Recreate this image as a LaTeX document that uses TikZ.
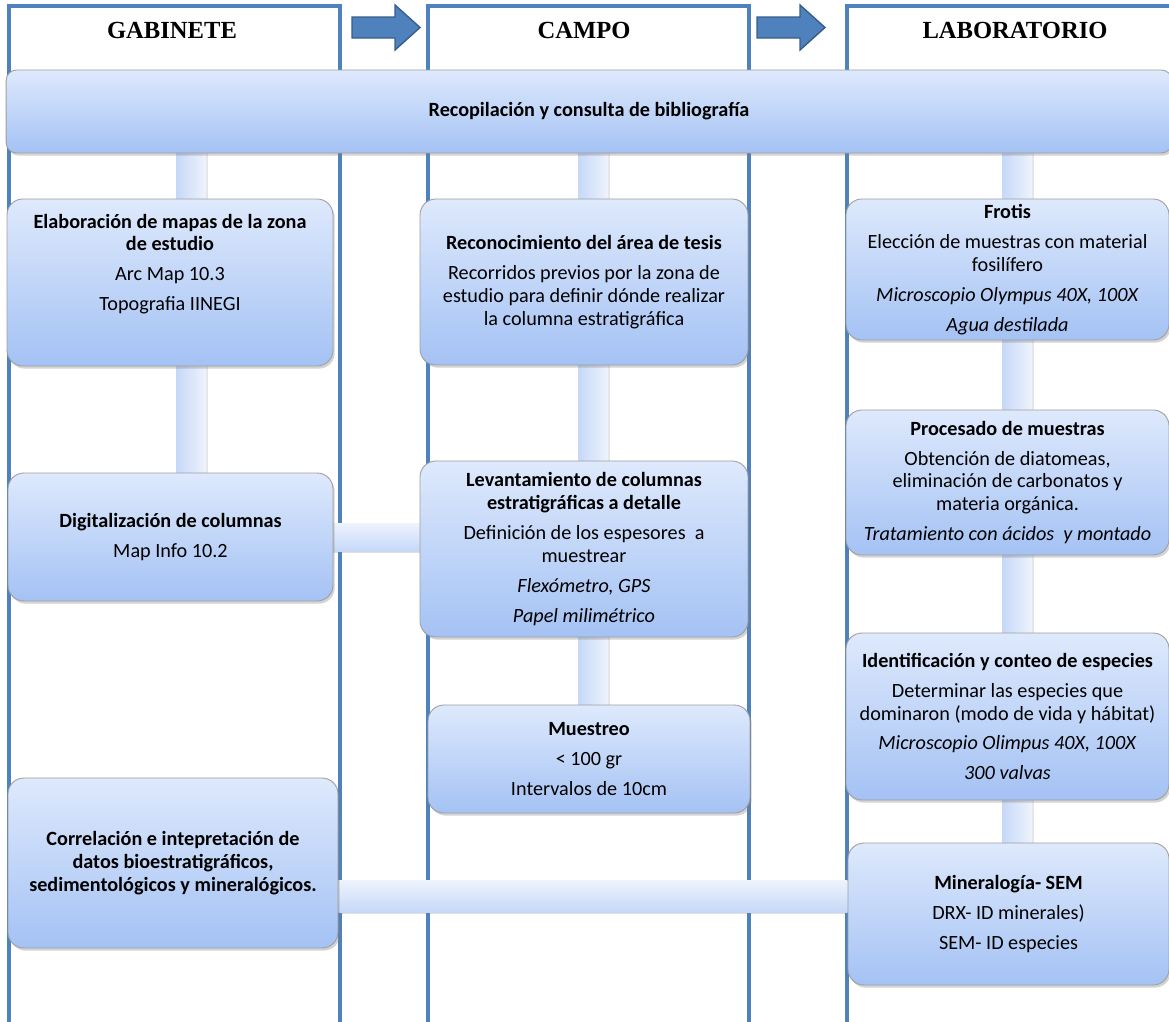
\documentclass[tikz,border=0pt]{standalone}
\usepackage{fontspec}
\setmainfont{Carlito}
\newfontfamily\headfont{Liberation Serif}
\usetikzlibrary{positioning,calc,shadows,backgrounds}
\definecolor{LaneBlue}{RGB}{79,129,189}
\definecolor{LaneDark}{RGB}{56,93,138}
\definecolor{BoxTop}{RGB}{222,233,252}
\definecolor{BoxBot}{RGB}{164,194,244}
\definecolor{BarDark}{RGB}{198,216,248}
\definecolor{BarLight}{RGB}{238,243,253}

\begin{document}
\begin{tikzpicture}[
    x=0.02cm, y=-0.02cm,
    lane/.style={draw=LaneBlue, line width=2pt},
    head/.style={font=\headfont\bfseries\fontsize{14}{16}\selectfont, text=black},
    stage/.style={rectangle, rounded corners=9pt, draw=gray!75, line width=0.5pt,
        top color=BoxTop, bottom color=BoxBot, minimum width=6.52cm, inner sep=2pt,
        align=center, font=\fontsize{11.5}{13}\selectfont, text=black,
        drop shadow={opacity=0.35, shadow xshift=1pt, shadow yshift=-1.5pt}},
    vbar/.style={left color=BarDark, right color=BarLight,
        drop shadow={opacity=0.2, shadow xshift=1pt, shadow yshift=0pt}},
    hbar/.style={top color=BarLight, bottom color=BarDark,
        drop shadow={opacity=0.25, shadow xshift=0pt, shadow yshift=-1.2pt}},
    blockarr/.style={fill=LaneBlue, draw=LaneDark, line width=0.8pt},
]
\useasboundingbox (0,0) rectangle (1169,1021);

% lane titles
\node[head] (gab) at (172,30) {GABINETE};
\node[head] (cam) at (584,30) {CAMPO};
\node[head] (lab) at (1015,30) {LABORATORIO};

\node[stage, minimum width=23.32cm, minimum height=1.66cm, rounded corners=6pt] (biblio) at (589,111.5) {\textbf{Recopilación y consulta de bibliografía}};

% gabinete
\node[stage, minimum height=3.34cm] (mapas) at (170,282.5) {\textbf{Elaboración de mapas de la zona}\\ \textbf{de estudio}\\[4pt] Arc Map 10.3\\[4pt] Topografia IINEGI\\[10pt]\mbox{}};
\node[stage, minimum width=6.5cm, minimum height=2.56cm] (digit) at (170.5,537) {\textbf{Digitalización de columnas}\\[4pt] Map Info 10.2};
\node[stage, minimum width=6.6cm, minimum height=3.4cm] (correl) at (173,863) {\textbf{Correlación e intepretación de}\\ \textbf{datos bioestratigráficos,}\\ \textbf{sedimentológicos y mineralógicos.}};

% campo
\node[stage, minimum width=6.56cm, minimum height=3.32cm] (recon) at (584,282) {\textbf{Reconocimiento del área de tesis}\\[4pt] Recorridos previos por la zona de\\ estudio para definir dónde realizar\\ la columna estratigráfica};
\node[stage, minimum width=6.56cm, minimum height=3.52cm] (levant) at (584,549) {\textbf{Levantamiento de columnas}\\ \textbf{estratigráficas a detalle}\\[4pt] Definición de los espesores\ \ a\\ muestrear\\[4pt] \textit{Flexómetro, GPS}\\[4pt] \textit{Papel milimétrico}};
\node[stage, minimum width=6.44cm, minimum height=2.16cm] (muestreo) at (589,759) {\textbf{Muestreo}\\[4pt] < 100 gr\\[4pt] Intervalos de 10cm};

% laboratorio
\node[stage, minimum width=6.46cm, minimum height=2.82cm] (frotis) at (1007.5,269.5) {\textbf{Frotis}\\[4pt] Elección de muestras con material\\ fosilífero\\[4pt] \textit{Microscopio Olympus 40X, 100X}\\[4pt] \textit{Agua destilada}};
\node[stage, minimum width=6.46cm, minimum height=2.9cm] (proces) at (1007.5,482.5) {\textbf{Procesado de muestras}\\[4pt] Obtención de diatomeas,\\ eliminación de carbonatos y\\ materia orgánica.\\[4pt] \textit{Tratamiento con ácidos\ \ y montado}};
\node[stage, minimum width=6.46cm, minimum height=3.34cm] (ident) at (1007.5,716.5) {\textbf{Identificación y conteo de especies}\\[4pt] Determinar las especies que\\ dominaron (modo de vida y hábitat)\\[4pt] \textit{Microscopio Olimpus 40X, 100X}\\[4pt] \textit{300 valvas}};
\node[stage, minimum width=6.42cm, minimum height=2.84cm] (mineral) at (1008.5,914) {\textbf{Mineralogía- SEM}\\[4pt] DRX- ID minerales)\\[4pt] SEM- ID especies};

\begin{scope}[on background layer]
% lanes and block arrows
\draw[lane] (9,1030) |- (340,6) -- (340,1030);
\draw[lane] (428,1030) |- (749,6) -- (749,1030);
\draw[lane] (847,1030) |- (1180,6);
\foreach \ax in {352,757}
    \filldraw[blockarr] (\ax,17) -- ({\ax+43},17) -- ({\ax+43},5) -- ({\ax+68},27.5)
        -- ({\ax+43},50) -- ({\ax+43},38) -- (\ax,38) -- cycle;

% connector bars
\coordinate (gx) at (191,0);
\coordinate (cx) at (593,0);
\coordinate (lx) at (1017,0);
\coordinate (hy) at (0,896);
\path[vbar] ($(gx |- biblio.south)+(-15,0)$) rectangle ($(gx |- digit.north)+(15,0)$);
\path[vbar] ($(cx |- biblio.south)+(-15,0)$) rectangle ($(cx |- muestreo.north)+(15,0)$);
\path[vbar] ($(lx |- biblio.south)+(-15,0)$) rectangle ($(lx |- mineral.north)+(15,0)$);
\path[hbar] ($(digit.east)+(0,-14)$) rectangle ($(levant.west |- digit.east)+(0,14)$);
\path[hbar] ($(correl.east |- hy)+(0,-16)$) rectangle ($(mineral.west |- hy)+(0,16)$);
\end{scope}
\end{tikzpicture}
\end{document}
